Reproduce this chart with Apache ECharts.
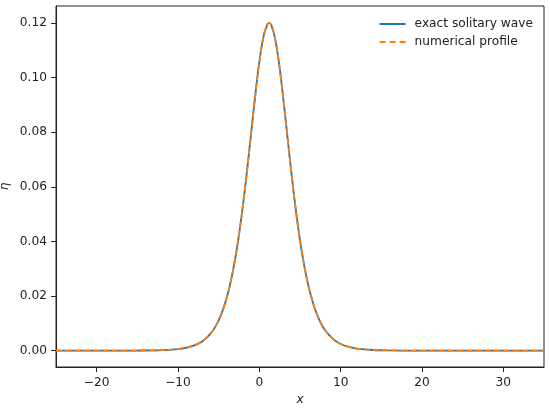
<!DOCTYPE html>
<html>
<head>
<meta charset="utf-8">
<script src="https://cdn.jsdelivr.net/npm/echarts@6/dist/echarts.min.js"></script>
<style>html,body{margin:0;padding:0;background:#fff}#c{width:550px;height:410px}</style>
</head>
<body>
<div id="c"></div>
<script>
const xValues = [-25,-20,-15,-12,-10,-9,-8,-7.5,-7,-6.5,-6,-5.5,-5,-4.5,-4,-3.5,-3,-2.5,-2,-1.5,-1,-0.5,0,0.5,1,1.2,1.5,2,2.5,3,3.5,4,4.5,5,5.5,6,6.5,7,7.5,8,9,10,11,12,14,16,20,25,30,35];
const exactEta = [0,0.000001,0.00003,0.00017,0.00058,0.00105,0.00191,0.00257,0.00346,0.00464,0.00622,0.00832,0.01109,0.01472,0.01944,0.02548,0.03309,0.04243,0.05352,0.06620,0.07986,0.09349,0.10570,0.11487,0.11957,0.12000,0.11903,0.11335,0.10345,0.09083,0.07709,0.06356,0.05117,0.04041,0.03143,0.02416,0.01840,0.01392,0.01047,0.00785,0.00437,0.00242,0.00133,0.00073,0.00022,0.00007,0.00001,0,0,0];
const numericalEta = [0,0.000001,0.00003,0.00017,0.00058,0.00105,0.00191,0.00257,0.00346,0.00464,0.00622,0.00832,0.01109,0.01472,0.01944,0.02548,0.03309,0.04243,0.05352,0.06620,0.07986,0.09349,0.10570,0.11487,0.11957,0.12000,0.11903,0.11335,0.10345,0.09083,0.07709,0.06356,0.05117,0.04041,0.03143,0.02416,0.01840,0.01392,0.01047,0.00785,0.00437,0.00242,0.00133,0.00073,0.00022,0.00007,0.00001,0,0,0];
const xTicks = [-20,-10,0,10,20,30];
const yTicks = [0,0.02,0.04,0.06,0.08,0.10,0.12];
const seriesNames = ['exact solitary wave','numerical profile'];

const FONT = 'DejaVu Sans';
const FS = 12.2;
const pair = (xs, ys) => xs.map((x, i) => [x, ys[i]]);
const chart = echarts.init(document.getElementById('c'), null, {renderer: 'canvas'});
chart.setOption({
  animation: false,
  backgroundColor: '#fff',
  textStyle: {fontFamily: FONT},
  grid: {left: 56, top: 6, right: 6, bottom: 43, containLabel: false, outerBoundsMode: 'none',
    show: true, borderColor: '#222', borderWidth: 1, backgroundColor: 'transparent'},
  legend: {
    orient: 'vertical', right: 12, top: 13, align: 'left',
    itemWidth: 26, itemHeight: 2, itemGap: 6,
    textStyle: {fontFamily: FONT, fontSize: FS, color: '#222', padding: [0, 0, 0, 4]},
    data: [
      {name: seriesNames[0], icon: 'path://M0,0h26v2h-26z', itemStyle: {color: '#1f77b4'}},
      {name: seriesNames[1], icon: 'path://M0,0h6v2h-6z M10,0h6v2h-6z M20,0h6v2h-6z', itemStyle: {color: '#ff7f0e'}}
    ]
  },
  xAxis: {
    type: 'value', min: -25, max: 35,
    name: 'x', nameLocation: 'middle', nameGap: 27, nameMoveOverlap: false,
    nameTextStyle: {fontFamily: FONT, fontSize: FS, fontStyle: 'italic', color: '#222'},
    axisLine: {show: true, onZero: false, lineStyle: {color: '#222', width: 1}},
    axisTick: {show: true, inside: false, length: 5, lineStyle: {color: '#222'}, customValues: xTicks},
    axisLabel: {fontFamily: FONT, fontSize: FS, color: '#222', margin: 10, customValues: xTicks,
      formatter: v => String(v).replace('-', '\u2212')},
    splitLine: {show: false}
  },
  yAxis: {
    type: 'value', min: -0.006, max: 0.1262,
    name: 'η', nameLocation: 'middle', nameGap: 45, nameRotate: 90, nameMoveOverlap: false,
    nameTextStyle: {fontFamily: FONT, fontSize: FS, fontStyle: 'italic', color: '#222'},
    axisLine: {show: true, onZero: false, lineStyle: {color: '#222', width: 1}},
    axisTick: {show: true, inside: false, length: 5, lineStyle: {color: '#222'}, customValues: yTicks},
    axisLabel: {fontFamily: FONT, fontSize: FS, color: '#222', margin: 9, customValues: yTicks,
      formatter: v => v.toFixed(2)},
    splitLine: {show: false}
  },
  series: [
    {name: seriesNames[0], type: 'line', data: pair(xValues, exactEta), symbol: 'none', showSymbol: false,
     smooth: 0.35, color: '#1f77b4', lineStyle: {color: '#1f77b4', width: 1.8}, z: 2},
    {name: seriesNames[1], type: 'line', data: pair(xValues, numericalEta), symbol: 'none', showSymbol: false,
     smooth: 0.35, color: '#ff7f0e', lineStyle: {color: '#ff7f0e', width: 1.8, type: [6.5, 2.8]}, z: 3}
  ]
});
</script>
</body>
</html>
